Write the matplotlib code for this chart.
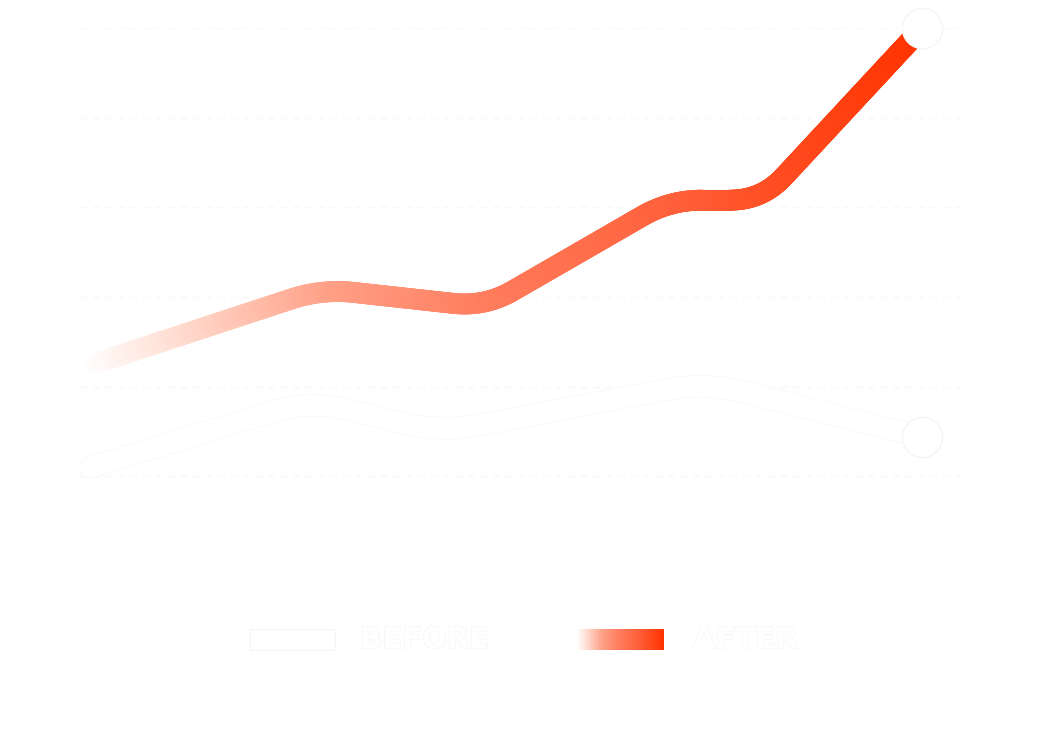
import numpy as np
import matplotlib
matplotlib.use("Agg")
import matplotlib.pyplot as plt
from matplotlib.collections import LineCollection
from matplotlib.colors import LinearSegmentedColormap
from matplotlib.patches import Rectangle
import matplotlib.patheffects as pe

# values (x on a 0-88 scale, y on a 0-60 scale)
before_x = [1, 23, 36, 62.5, 84.2]
before_y = [11.0, 18.5, 14.9, 20.5, 14.4]
after_x = [1, 24.2, 40.5, 59, 68.2, 84.2]
after_y = [22.4, 30.9, 28.9, 40.8, 40.8, 60]
y_ticks = [0, 10, 20, 30, 40, 50, 60]
legend_labels = ["BEFORE", "AFTER"]

orange = LinearSegmentedColormap.from_list("after", [
    (0.0, (1, 1, 1)),
    (0.1, (1, 0.88, 0.84)),
    (0.29, (1, 0.63, 0.53)),
    (0.48, (1, 0.49, 0.37)),
    (0.72, (1, 0.37, 0.22)),
    (1.0, (1, 0.2, 0.0)),
])

W, H = 1044, 730
fig = plt.figure(figsize=(W / 100, H / 100), dpi=100)
fig.patch.set_facecolor("white")
ax = fig.add_axes([80 / W, 164 / H, 880 / W, 538 / H])
ax.set_xlim(0, 88)
ax.set_ylim(0, 60)
for s in ax.spines.values():
    s.set_visible(False)
ax.set_xticks([])
ax.set_yticks(y_ticks)
ax.tick_params(length=0, labelcolor="white")
ax.grid(axis="y", color="#f8f8f8", linestyle=(0, (5, 4)), linewidth=1)
ax.set_axisbelow(True)


def rounded_line(xs, ys, r=35, n=30):
    # straight pieces with rounded corners, worked out in pixel space
    p = ax.transData.transform(np.column_stack([xs, ys]))
    out = [p[0]]
    tt = np.linspace(0, 1, n)[:, None]
    for i in range(1, len(p) - 1):
        a, b, c = p[i - 1], p[i], p[i + 1]
        la, lc_ = np.hypot(*(a - b)), np.hypot(*(c - b))
        ra = min(r, la / 2)
        rc = min(r, lc_ / 2)
        s = b + (a - b) / la * ra
        e = b + (c - b) / lc_ * rc
        curve = (1 - tt) ** 2 * s + 2 * (1 - tt) * tt * b + tt ** 2 * e
        out.extend(curve)
    out.append(p[-1])
    out = np.array(out)
    # resample densely so the gradient is smooth
    d = np.r_[0, np.cumsum(np.hypot(*np.diff(out, axis=0).T))]
    u = np.linspace(0, d[-1], 600)
    out = np.column_stack([np.interp(u, d, out[:, 0]), np.interp(u, d, out[:, 1])])
    return ax.transData.inverted().transform(out)


lw = 15

# BEFORE series: white line with a very faint edge
bp = rounded_line(before_x, before_y, r=40)
ax.plot(bp[:, 0], bp[:, 1], color="white", lw=lw, solid_capstyle="round",
        path_effects=[pe.Stroke(linewidth=lw + 1.2, foreground="#f8f8f8"), pe.Normal()])
ax.plot(before_x[-1], before_y[-1], "o", ms=29, mfc="white", mec="#f5f5f5", mew=1, clip_on=False)

# AFTER series: horizontal gradient line
ap = rounded_line(after_x, after_y, r=32)
segs = np.stack([ap[:-1], ap[1:]], axis=1)
frac = (ap[:-1, 0] - ap[0, 0]) / (ap[-1, 0] - ap[0, 0])
lc = LineCollection(segs, colors=orange(frac), linewidths=lw, capstyle="round", zorder=3)
ax.add_collection(lc)
ax.plot(after_x[-1], after_y[-1], "o", ms=29, mfc="white", mec="#f5f5f5", mew=1, clip_on=False, zorder=4)

# legend
fig.add_artist(Rectangle((250 / W, 80 / H), 85 / W, 21 / H, transform=fig.transFigure,
                         facecolor="white", edgecolor="#f5f5f5", lw=1))
fig.text(360 / W, 90 / H, legend_labels[0], color="white", fontsize=21, fontweight="bold",
         va="center", ha="left",
         path_effects=[pe.Stroke(linewidth=1, foreground="#f6f6f6"), pe.Normal()])
gax = fig.add_axes([577 / W, 80 / H, 87 / W, 21 / H])
gax.imshow(np.linspace(0, 1, 256)[None, :], cmap=orange, aspect="auto")
gax.axis("off")
fig.text(693 / W, 90 / H, legend_labels[1], color="white", fontsize=21, fontweight="bold",
         va="center", ha="left",
         path_effects=[pe.Stroke(linewidth=1, foreground="#f6f6f6"), pe.Normal()])

fig.savefig("out.png", dpi=100, facecolor="white")
